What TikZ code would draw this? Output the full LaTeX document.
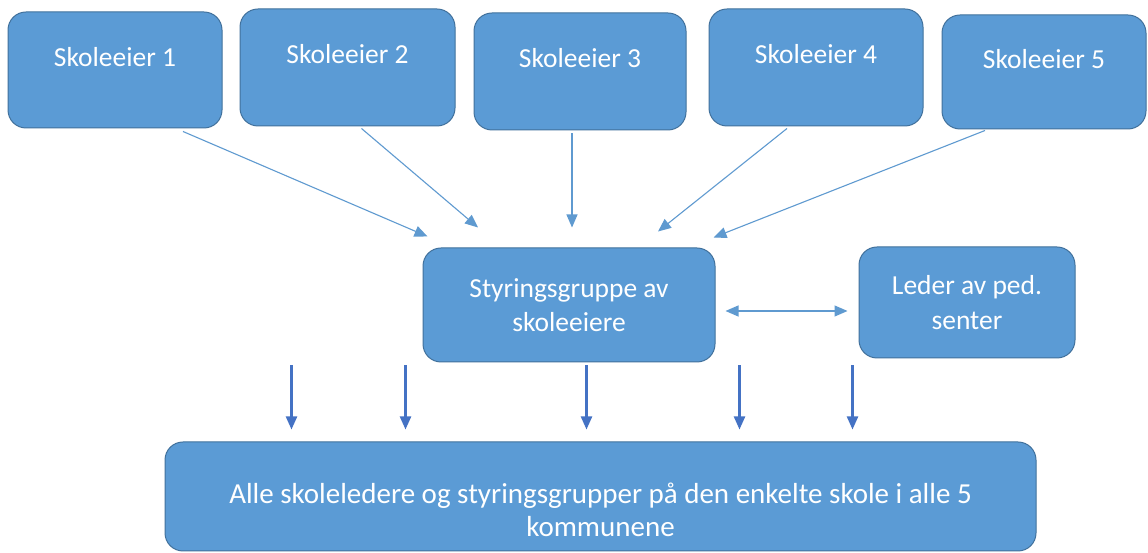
\documentclass[tikz,border=0pt]{standalone}
\usepackage{fontspec}
\setmainfont{Carlito}
\usepackage{tikz}
\usetikzlibrary{arrows.meta,positioning,calc}
\definecolor{BoxFill}{HTML}{5B9BD5}
\definecolor{BoxEdge}{HTML}{41719C}
\definecolor{ThinLine}{HTML}{5F9AD0}
\definecolor{DownLine}{HTML}{4472C4}
\tikzset{
  unit/.style={draw=BoxEdge,fill=BoxFill,line width=1pt,rounded corners=18pt,
    inner sep=0pt,text=white,font=\fontsize{27.5}{34.5}\selectfont},
  eier/.style={unit,minimum width=214pt,minimum height=116pt,
    text height=19pt,text depth=26pt},
  group/.style={unit,align=center},
  thinarrow/.style={-{Triangle[length=13pt,width=11pt]},line width=1.1pt,color=ThinLine},
  twoarrow/.style={{Triangle[length=13pt,width=11pt]}-{Triangle[length=13pt,width=11pt]},
    line width=1.1pt,color=ThinLine},
  downarrow/.style={-{Triangle[length=13pt,width=11pt]},line width=2.2pt,color=DownLine}
}
\begin{document}
\begin{tikzpicture}[x=1pt,y=1pt]
  \useasboundingbox[fill=white] (0,0) rectangle (1148,553);
  % skoleeiere
  \node[eier] (eier1) at (115,483) {Skoleeier 1};
  \node[eier,minimum width=215pt,minimum height=117pt] (eier2) at (347.5,485.5) {Skoleeier 2};
  \node[eier,minimum width=212pt,minimum height=117pt] (eier3) at (580,481.5) {Skoleeier 3};
  \node[eier,minimum height=117pt] (eier4) at (816,485.5) {Skoleeier 4};
  \node[eier,minimum width=204pt,minimum height=114pt] (eier5) at (1044,481) {Skoleeier 5};
  % midten
  \node[group,minimum width=292pt,minimum height=114pt] (styr) at (569,248)
    {Styringsgruppe av\\skoleeiere};
  \node[group,minimum width=216pt,minimum height=111pt] (leder) at (967,250.5)
    {Leder av ped.\\senter};
  \node[group,minimum width=871pt,minimum height=109pt,font=\fontsize{29}{33}\selectfont]
    (alle) at (600.5,56.5)
    {\rule{0pt}{48pt}Alle skoleledere og styringsgrupper på den enkelte skole i alle 5\\kommunene};
  % piler inn
  \draw[thinarrow] ([shift={(68pt,-3pt)}]eier1.south) -- ([shift={(5pt,11pt)}]styr.north west);
  \draw[thinarrow] ([shift={(14pt,-2pt)}]eier2.south) -- ([shift={(-91pt,20pt)}]styr.north);
  \draw[thinarrow] ([shift={(-8pt,-3pt)}]eier3.south) -- ([shift={(3pt,20pt)}]styr.north);
  \draw[thinarrow] ([shift={(-29pt,-2pt)}]eier4.south) -- ([shift={(89pt,16pt)}]styr.north);
  \draw[thinarrow] ([shift={(-59pt,-1pt)}]eier5.south) -- ([shift={(-2pt,10pt)}]styr.north east);
  \draw[twoarrow] ([shift={(10pt,-6pt)}]styr.east) -- ([shift={(-11pt,-8.5pt)}]leder.west);
  % piler ut
  \foreach \dx in {127,241,422,575,688}
    \draw[downarrow] ([shift={(\dx pt,76pt)}]alle.north west) -- ([shift={(\dx pt,12pt)}]alle.north west);
\end{tikzpicture}
\end{document}
